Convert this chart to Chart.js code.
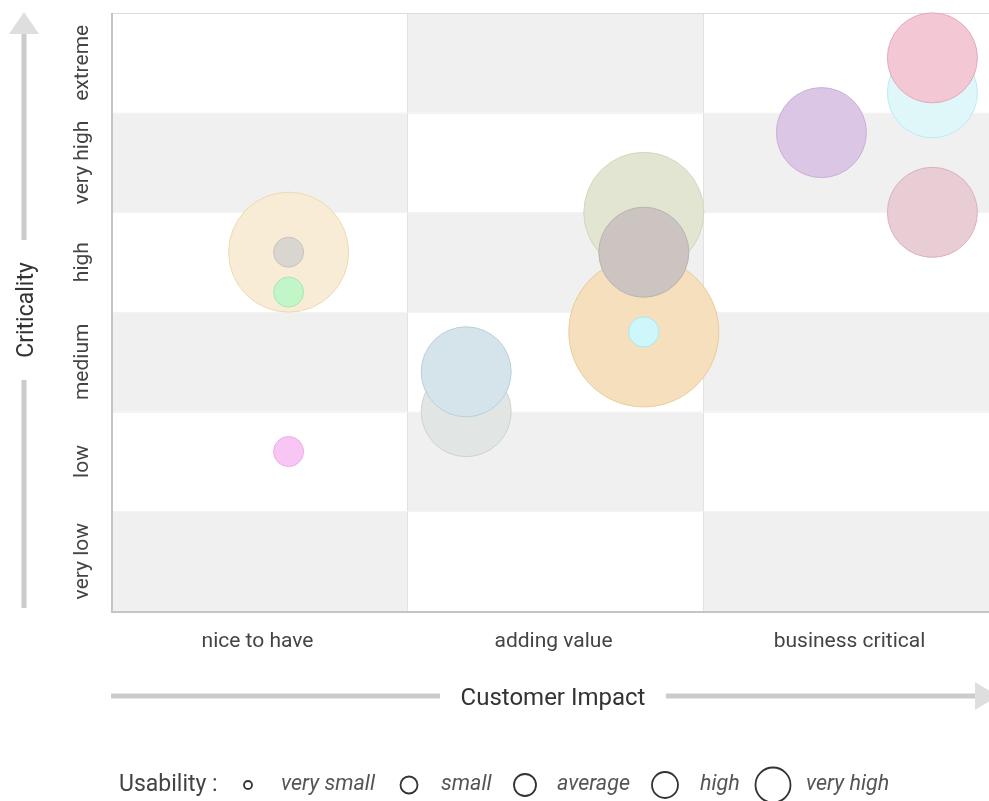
<!DOCTYPE html>
<html><head><meta charset="utf-8">
<script src="https://cdn.jsdelivr.net/npm/chart.js@4.4.0/dist/chart.umd.min.js"></script>
<style>html,body{margin:0;padding:0;background:#fff;overflow:hidden}#wrap{width:989px;height:801px;position:relative}</style>
</head><body><div id="wrap"><canvas id="c"></canvas></div>
<script>
// ---- data ----
const impactLabels = ['nice to have', 'adding value', 'business critical'];
const criticalityLabels = ['very low', 'low', 'medium', 'high', 'very high', 'extreme'];
const usabilityLabels = ['very small', 'small', 'average', 'high', 'very high'];
const impactValues      = [0.6, 0.6, 0.6, 0.6, 1.2, 1.2, 1.8, 1.8, 1.8, 1.8, 2.4, 2.775, 2.775, 2.775];
const criticalityValues = [3.6, 3.6, 3.2, 1.6, 2.0, 2.4, 4.0, 2.8, 3.6, 2.8, 4.8, 5.2, 5.55, 4.0];
const usabilityValues   = [4, 1, 1, 1, 3, 3, 4, 5, 3, 1, 3, 3, 3, 3];
const bubbleColors = ['#f8ecd7', '#d9d6d0', '#c2f5c8', '#f8c6f4', '#e1e5e3', '#d5e4eb', '#e3e5d3',
                      '#f6dfbd', '#ccc4c0', '#cdf7fb', '#dcc6e5', '#e0f7fa', '#f3c7d4', '#e9cdd4'];
const bubbleBorders = ['#ecdbb0', '#c9c4bc', '#a6eab0', '#eeaaea', '#cdd4d1', '#b9d0da', '#d3d7bb',
                       '#ebcb9a', '#bdb3ae', '#a5eef4', '#cbaed6', '#bcebf1', '#e5a9bc', '#d9b3bd'];

const RADIUS_STEP = 15;
const points = impactValues.map((x, i) => ({ x, y: criticalityValues[i], r: usabilityValues[i] * RADIUS_STEP }));

const FONT = 'Roboto, "Noto Sans", sans-serif';

const decor = {
  id: 'decor',
  beforeDatasetsDraw(chart) {
    const { ctx, chartArea: a, scales: { x, y } } = chart;
    ctx.save();
    // checkerboard
    for (let r = 0; r < criticalityLabels.length; r++) {
      for (let c = 0; c < impactLabels.length; c++) {
        if ((r + c) % 2 !== 0) continue;
        const x0 = x.getPixelForValue(c), x1 = Math.min(x.getPixelForValue(c + 1), a.right);
        const y0 = y.getPixelForValue(r + 1), y1 = y.getPixelForValue(r);
        ctx.fillStyle = '#f0f0f0';
        ctx.fillRect(x0, y0, x1 - x0, y1 - y0);
      }
    }
    // grid lines
    ctx.strokeStyle = '#e2e2e2';
    ctx.lineWidth = 1;
    for (let c = 1; c < impactLabels.length; c++) {
      const px = Math.round(x.getPixelForValue(c)) + 0.5;
      ctx.beginPath(); ctx.moveTo(px, a.top); ctx.lineTo(px, a.bottom); ctx.stroke();
    }
    ctx.strokeStyle = '#f3f3f3';
    for (let r = 1; r < criticalityLabels.length; r++) {
      const py = Math.round(y.getPixelForValue(r)) + 0.5;
      ctx.beginPath(); ctx.moveTo(a.left, py); ctx.lineTo(a.right, py); ctx.stroke();
    }
    // top border
    ctx.strokeStyle = '#dcdcdc';
    ctx.beginPath(); ctx.moveTo(a.left, a.top + 0.5); ctx.lineTo(a.right, a.top + 0.5); ctx.stroke();
    // axis lines
    ctx.strokeStyle = '#c4c4c4';
    ctx.lineWidth = 2;
    ctx.beginPath(); ctx.moveTo(a.left + 1, a.top); ctx.lineTo(a.left + 1, a.bottom + 1);
    ctx.lineTo(a.right, a.bottom + 1); ctx.stroke();
    ctx.restore();
  },
  afterDraw(chart) {
    const { ctx, chartArea: a, scales: { x, y } } = chart;
    ctx.save();
    // x tick labels
    ctx.fillStyle = '#444';
    ctx.font = '21px ' + FONT;
    ctx.textAlign = 'center';
    ctx.textBaseline = 'alphabetic';
    impactLabels.forEach((l, i) => ctx.fillText(l, x.getPixelForValue(i + 0.5) - 1.5, a.bottom + 36));
    // y tick labels (rotated)
    criticalityLabels.forEach((l, i) => {
      ctx.save();
      ctx.translate(88, y.getPixelForValue(i + 0.5));
      ctx.rotate(-Math.PI / 2);
      ctx.fillText(l, 0, 0);
      ctx.restore();
    });
    // y title
    ctx.fillStyle = '#333';
    ctx.font = '23px ' + FONT;
    ctx.save(); ctx.translate(33, 310); ctx.rotate(-Math.PI / 2); ctx.fillText('Criticality', 0, 0); ctx.restore();
    // x title
    ctx.font = '24px ' + FONT;
    ctx.fillText('Customer Impact', 553, 705);

    // arrows
    ctx.strokeStyle = '#cbcbcb';
    ctx.lineWidth = 5;
    ctx.beginPath(); ctx.moveTo(24, 30); ctx.lineTo(24, 240); ctx.stroke();
    ctx.beginPath(); ctx.moveTo(24, 380); ctx.lineTo(24, 608); ctx.stroke();
    ctx.beginPath(); ctx.moveTo(111, 696); ctx.lineTo(440, 696); ctx.stroke();
    ctx.beginPath(); ctx.moveTo(666, 696); ctx.lineTo(978, 696); ctx.stroke();
    ctx.fillStyle = '#dedede';
    ctx.beginPath(); ctx.moveTo(24, 12); ctx.lineTo(9, 34); ctx.lineTo(39, 34); ctx.closePath(); ctx.fill();
    ctx.beginPath(); ctx.moveTo(998, 696); ctx.lineTo(975, 682); ctx.lineTo(975, 710); ctx.closePath(); ctx.fill();

    // usability legend
    const ly = 785;
    ctx.textAlign = 'left';
    ctx.textBaseline = 'middle';
    ctx.fillStyle = '#444';
    ctx.font = '23px ' + FONT;
    ctx.fillText('Usability :', 119, ly);
    const circleX = [248, 409, 525, 665, 773];
    const circleR = [4, 8.5, 11, 13, 17.5];
    const textX = [281, 441, 557, 700, 806];
    ctx.font = 'italic 21.5px ' + FONT;
    usabilityLabels.forEach((l, i) => {
      ctx.strokeStyle = '#333';
      ctx.lineWidth = 1.8;
      ctx.beginPath(); ctx.arc(circleX[i], ly, circleR[i], 0, Math.PI * 2); ctx.stroke();
      ctx.fillStyle = '#555';
      ctx.fillText(l, textX[i], ly);
    });
    ctx.restore();
  }
};

new Chart(document.getElementById('c'), {
  type: 'bubble',
  data: {
    datasets: [{
      data: points,
      backgroundColor: bubbleColors,
      borderColor: bubbleBorders,
      borderWidth: 1,
      clip: false
    }]
  },
  options: {
    responsive: true,
    maintainAspectRatio: false,
    animation: false,
    layout: { autoPadding: false, padding: { left: 111, top: 13, right: 0, bottom: 190 } },
    plugins: { legend: { display: false }, tooltip: { enabled: false } },
    scales: {
      x: { type: 'linear', min: 0, max: 878 / 296, display: false },
      y: { type: 'linear', min: 0, max: criticalityLabels.length, display: false }
    }
  },
  plugins: [decor]
});
</script>
</body></html>
